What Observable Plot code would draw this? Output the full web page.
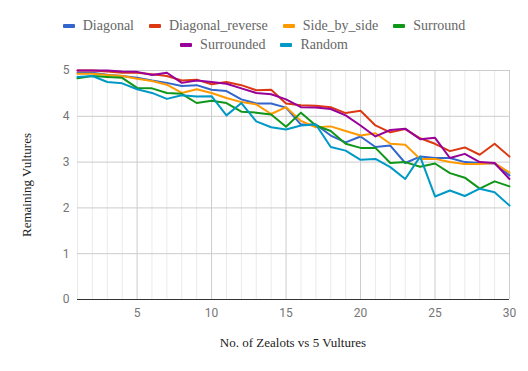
<!DOCTYPE html>
<html>
<head>
<meta charset="utf-8">
<script src="https://cdn.jsdelivr.net/npm/d3@7"></script>
<script src="https://cdn.jsdelivr.net/npm/@observablehq/plot@0.6"></script>
<style>
  html, body { margin: 0; padding: 0; background: #fff; }
  #wrap { position: relative; width: 528px; height: 371px; overflow: hidden; }
  #legend { position: absolute; left: 0; top: 16px; width: 528px; font-family: "Liberation Serif", serif; font-size: 14px; color: #666; }
  .row { display: flex; justify-content: center; gap: 15px; height: 19px; align-items: center; }
  .item { display: flex; align-items: center; gap: 8px; }
  .sw { width: 12px; height: 4px; border-radius: 1px; }
  #xtitle { position: absolute; left: 77px; width: 432px; top: 335px; text-align: center; font-family: "Liberation Serif", serif; font-size: 13px; color: #222; }
  #ytitle { position: absolute; left: 27px; top: 185px; transform: translate(-50%, -50%) rotate(-90deg); white-space: nowrap; font-family: "Liberation Serif", serif; font-size: 13px; color: #222; }
</style>
</head>
<body>
<div id="wrap">
  <div id="chart"></div>
  <div id="legend"></div>
  <div id="xtitle">No. of Zealots vs 5 Vultures</div>
  <div id="ytitle">Remaining Vultures</div>
</div>
<script>
const zealots = [1,2,3,4,5,6,7,8,9,10,11,12,13,14,15,16,17,18,19,20,21,22,23,24,25,26,27,28,29,30];
const seriesNames = ["Diagonal","Diagonal_reverse","Side_by_side","Surround","Surrounded","Random"];
const seriesColors = ["#3366cc","#dc3912","#ff9900","#109618","#990099","#0099c6"];
const xTicks = [5,10,15,20,25,30];
const yTicks = [0,1,2,3,4,5];

const diagonal = [4.95,4.95,4.91,4.88,4.84,4.78,4.73,4.66,4.68,4.58,4.55,4.37,4.28,4.28,4.19,3.82,3.82,3.58,3.43,3.56,3.33,3.36,2.98,3.12,3.09,3.09,3.0,2.98,2.97,2.71];
const diagonalReverse = [5.0,5.0,4.98,4.95,4.95,4.92,4.88,4.78,4.8,4.7,4.75,4.68,4.57,4.58,4.28,4.24,4.23,4.2,4.07,4.12,3.8,3.65,3.72,3.52,3.4,3.24,3.32,3.16,3.4,3.12];
const sideBySide = [4.93,4.93,4.9,4.88,4.82,4.77,4.69,4.51,4.59,4.51,4.4,4.31,4.26,4.05,4.2,3.9,3.76,3.78,3.68,3.58,3.63,3.4,3.38,3.07,3.07,3.0,2.96,2.96,2.98,2.77];
const surround = [4.83,4.88,4.86,4.84,4.62,4.61,4.51,4.49,4.29,4.34,4.29,4.1,4.08,4.04,3.77,4.08,3.8,3.68,3.4,3.31,3.31,2.98,3.0,2.9,2.97,2.76,2.66,2.42,2.58,2.47];
const surrounded = [5.0,5.0,5.0,4.98,4.97,4.9,4.95,4.73,4.78,4.75,4.71,4.61,4.51,4.48,4.37,4.2,4.19,4.16,4.02,3.8,3.56,3.7,3.73,3.5,3.53,3.09,3.18,3.0,2.98,2.63];
const random = [4.86,4.88,4.75,4.72,4.59,4.51,4.38,4.46,4.43,4.44,4.02,4.29,3.89,3.76,3.71,3.8,3.82,3.33,3.25,3.05,3.07,2.89,2.63,3.12,2.25,2.38,2.26,2.42,2.34,2.05];

const seriesValues = [diagonal, diagonalReverse, sideBySide, surround, surrounded, random];
const data = seriesNames.flatMap((name, i) =>
  zealots.map((z, j) => ({series: name, x: z, y: seriesValues[i][j]})));

const minorX = zealots.filter(v => v % 5 !== 0);
const majorX = zealots.filter(v => v % 5 === 0);

const chart = Plot.plot({
  width: 528,
  height: 371,
  marginTop: 70,
  marginBottom: 72,
  marginLeft: 77,
  marginRight: 19,
  style: {background: "transparent", fontFamily: "Roboto, sans-serif", fontSize: "12px"},
  x: {domain: [1, 30]},
  y: {domain: [0, 5]},
  color: {domain: seriesNames, range: seriesColors},
  marks: [
    Plot.ruleX(minorX, {stroke: "#ebebeb", strokeWidth: 1}),
    Plot.ruleX(majorX, {stroke: "#cccccc", strokeWidth: 1}),
    Plot.ruleY(yTicks.filter(v => v > 0), {stroke: "#cccccc", strokeWidth: 1}),
    Plot.axisX({ticks: xTicks, tickFormat: d3.format("d"), tickSize: 0, tickPadding: 9, label: null, fill: "#757575", fontSize: 12}),
    Plot.axisY({ticks: yTicks, tickFormat: d3.format("d"), tickSize: 0, tickPadding: 8, label: null, fill: "#757575", fontSize: 12}),
    Plot.line(data, {x: "x", y: "y", z: "series", stroke: "series", strokeWidth: 2, strokeLinejoin: "round"}),
    Plot.ruleY([0], {stroke: "#333333", strokeWidth: 1})
  ]
});
document.getElementById("chart").appendChild(chart);

const legend = document.getElementById("legend");
const rows = [seriesNames.slice(0, 4), seriesNames.slice(4)];
rows.forEach(r => {
  const row = document.createElement("div");
  row.className = "row";
  r.forEach(name => {
    const it = document.createElement("div");
    it.className = "item";
    const sw = document.createElement("span");
    sw.className = "sw";
    sw.style.background = seriesColors[seriesNames.indexOf(name)];
    const t = document.createElement("span");
    t.textContent = name;
    it.appendChild(sw);
    it.appendChild(t);
    row.appendChild(it);
  });
  legend.appendChild(row);
});
</script>
</body>
</html>
